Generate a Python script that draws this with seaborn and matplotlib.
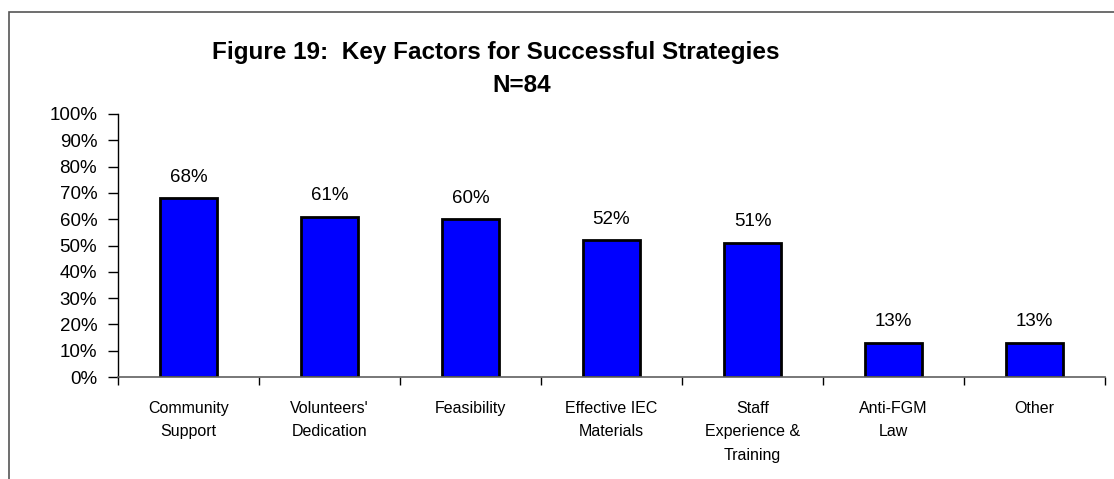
import matplotlib
matplotlib.use('Agg')
import matplotlib.pyplot as plt
from matplotlib.patches import Rectangle
from matplotlib.ticker import PercentFormatter
import seaborn as sns
import pandas as pd

categories = ['Community\nSupport', "Volunteers'\nDedication", 'Feasibility',
              'Effective IEC\nMaterials', 'Staff\nExperience &\nTraining',
              'Anti-FGM\nLaw', 'Other']
values = [68, 61, 60, 52, 51, 13, 13]
y_ticks = list(range(0, 101, 10))

sns.set_theme(style='white')
plt.rcParams['font.family'] = ['Liberation Sans', 'DejaVu Sans']
plt.rcParams['text.color'] = 'black'
plt.rcParams['xtick.color'] = 'black'
plt.rcParams['ytick.color'] = 'black'

df = pd.DataFrame({'Factor': categories, 'Percent': values})

W, H = 1114, 479
fig = plt.figure(figsize=(W / 100, H / 100), dpi=100)
ax = fig.add_axes([118 / W, 1 - 377 / H, (1105 - 118) / W, (377 - 114) / H])

sns.barplot(data=df, x='Factor', y='Percent', color='#0000FF', width=0.41,
            edgecolor='black', linewidth=2, saturation=1, ax=ax)

ax.set_ylim(0, 100)
ax.set_xlim(-0.5, len(categories) - 0.5)
ax.set_yticks(y_ticks)
ax.yaxis.set_major_formatter(PercentFormatter(decimals=0))
ax.tick_params(axis='y', labelsize=13.5, length=7, width=1, color='black',
               direction='out', left=True, pad=8)
ax.set_xticks([i + 0.5 for i in range(-1, len(categories))], minor=False)
ax.set_xticklabels([])
ax.set_xticks(range(len(categories)), minor=True)
ax.set_xticklabels(categories, minor=True, fontsize=11.5, linespacing=1.72)
ax.tick_params(axis='x', which='minor', length=0, pad=17)
ax.tick_params(axis='x', which='major', length=6, width=1, color='black',
               direction='out', bottom=True)
ax.set_xlabel('')
ax.set_ylabel('')

for side in ['top', 'right']:
    ax.spines[side].set_visible(False)
ax.spines['left'].set_color('black')
ax.spines['bottom'].set_color('#606060')
ax.spines['left'].set_linewidth(1)
ax.spines['bottom'].set_linewidth(1.2)

for i, v in enumerate(values):
    ax.annotate(f'{v}%', (i, v), xytext=(0, 9), textcoords='offset points',
                ha='center', va='bottom', fontsize=13.5)

fig.text(496 / W, 1 - 52 / H, 'Figure 19:  Key Factors for Successful Strategies',
         ha='center', va='center', fontsize=17.5, fontweight='bold')
fig.text(522 / W, 1 - 86 / H, 'N=84', ha='center', va='center',
         fontsize=17.5, fontweight='bold')

fig.patches.append(Rectangle((9 / W, -0.1), 1.1, 1 - 12 / H + 0.1,
                             transform=fig.transFigure, fill=False,
                             edgecolor='#555555', linewidth=1.2))

fig.savefig('out.png', dpi=100)
